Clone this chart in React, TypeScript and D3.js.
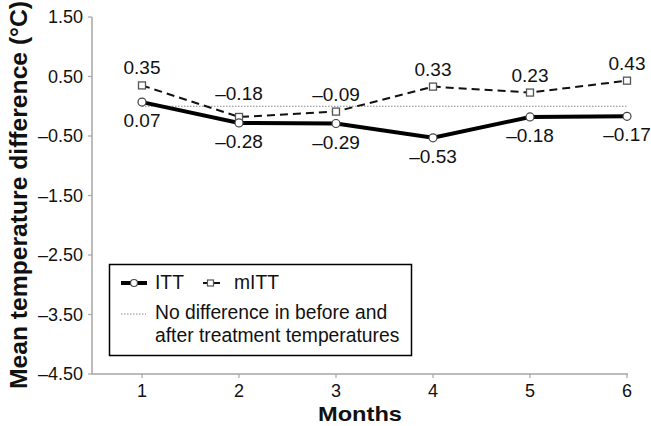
import React from "react";
import * as d3 from "d3";

const months = [1, 2, 3, 4, 5, 6];
const ittValues = [0.07, -0.28, -0.29, -0.53, -0.18, -0.17];
const mittValues = [0.35, -0.18, -0.09, 0.33, 0.23, 0.43];
const yTicks = [1.5, 0.5, -0.5, -1.5, -2.5, -3.5, -4.5];
const referenceValue = 0;

const W = 651;
const H = 426;
const FONT = "'Liberation Sans', Arial, Helvetica, sans-serif";

const fmt = (v: number) => (v < 0 ? "\u2013" + Math.abs(v).toFixed(2) : v.toFixed(2));

export default function App() {
  const x = d3.scaleLinear().domain([1, 6]).range([142, 627]);
  const y = d3.scaleLinear().domain([-4.5, 1.5]).range([374, 17]);
  const axisX0 = 92;
  const axisX1 = 628;

  const line = d3
    .line<number>()
    .x((_, i) => x(months[i]))
    .y((d) => y(d));

  return (
    <svg
      width={W}
      height={H}
      style={{ position: "absolute", left: 0, top: 0, background: "#fff" }}
      fontFamily={FONT}
    >
      {/* axes */}
      <line x1={axisX0} x2={axisX0} y1={y(1.5)} y2={y(-4.5)} stroke="#a6a6a6" strokeWidth={1.5} />
      <line x1={axisX0} x2={axisX1} y1={y(-4.5)} y2={y(-4.5)} stroke="#a6a6a6" strokeWidth={1.5} />
      {yTicks.map((t) => (
        <g key={t}>
          <line x1={axisX0 - 4} x2={axisX0} y1={y(t)} y2={y(t)} stroke="#a6a6a6" strokeWidth={1.2} />
          <text x={83} y={y(t)} dy="0.35em" textAnchor="end" fontSize={18} fill="#111">
            {fmt(t)}
          </text>
        </g>
      ))}
      {months.map((m) => (
        <g key={m}>
          <line x1={x(m)} x2={x(m)} y1={y(-4.5)} y2={y(-4.5) + 4} stroke="#a6a6a6" strokeWidth={1.2} />
          <text x={x(m)} y={y(-4.5) + 23} textAnchor="middle" fontSize={18} fill="#111">
            {m}
          </text>
        </g>
      ))}

      {/* axis titles */}
      <text
        transform={`translate(27, 195) rotate(-90)`}
        textAnchor="middle"
        fontSize={23}
        fontWeight="bold"
        fill="#111"
        textLength={388}
        lengthAdjust="spacingAndGlyphs"
      >
        Mean temperature difference (°C)
      </text>
      <text
        x={360}
        y={421}
        textAnchor="middle"
        fontSize={21}
        fontWeight="bold"
        fill="#111"
        textLength={84}
        lengthAdjust="spacingAndGlyphs"
      >
        Months
      </text>

      {/* reference line */}
      <line
        x1={x(1)}
        x2={x(6)}
        y1={y(referenceValue)}
        y2={y(referenceValue)}
        stroke="#888"
        strokeWidth={1}
        strokeDasharray="1.5,1.5"
      />

      {/* mITT dashed line */}
      <path d={line(mittValues) || ""} fill="none" stroke="#111" strokeWidth={2} strokeDasharray="8,5" />
      {/* ITT solid line */}
      <path d={line(ittValues) || ""} fill="none" stroke="#000" strokeWidth={4} />

      {mittValues.map((v, i) => (
        <rect
          key={"m" + i}
          x={x(months[i]) - 3.5}
          y={y(v) - 3.5}
          width={7}
          height={7}
          fill="#fff"
          stroke="#555"
          strokeWidth={1.3}
        />
      ))}
      {ittValues.map((v, i) => (
        <circle key={"i" + i} cx={x(months[i])} cy={y(v)} r={4} fill="#fff" stroke="#444" strokeWidth={1.2} />
      ))}

      {/* data labels */}
      {mittValues.map((v, i) => (
        <text
          key={"ml" + i}
          x={x(months[i])}
          y={y(v) - (v < 0 && i > 0 && ittValues[i] > v - 0.15 ? 17 : 11)}
          textAnchor="middle"
          fontSize={19}
          fill="#111"
        >
          {fmt(v)}
        </text>
      ))}
      {ittValues.map((v, i) => (
        <text key={"il" + i} x={x(months[i])} y={y(v) + 25} textAnchor="middle" fontSize={19} fill="#111">
          {fmt(v)}
        </text>
      ))}

      {/* legend */}
      <rect x={109.5} y={264.5} width={302} height={91} fill="#fff" stroke="#000" strokeWidth={1.5} />
      <line x1={121} x2={147} y1={283} y2={283} stroke="#000" strokeWidth={4} />
      <circle cx={134} cy={283} r={3.5} fill="#fff" stroke="#444" strokeWidth={1.2} />
      <text x={155} y={289} fontSize={19.3} fill="#111">ITT</text>
      <line x1={203} x2={208} y1={283} y2={283} stroke="#111" strokeWidth={2} />
      <line x1={214} x2={220} y1={283} y2={283} stroke="#111" strokeWidth={2} />
      <rect x={207.5} y={280} width={6} height={6} fill="#fff" stroke="#555" strokeWidth={1.2} />
      <text x={234} y={289} fontSize={19.3} fill="#111">mITT</text>
      <line x1={121} x2={146} y1={314} y2={314} stroke="#888" strokeWidth={1} strokeDasharray="1.5,1.5" />
      <text x={155} y={319} fontSize={19.3} fill="#111">No difference in before and</text>
      <text x={155} y={342} fontSize={19.3} fill="#111">after treatment temperatures</text>
    </svg>
  );
}
